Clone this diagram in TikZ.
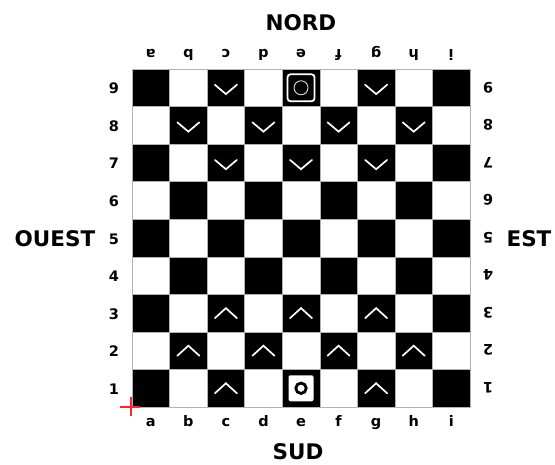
\documentclass[tikz,border=0pt]{standalone}
\usepackage{fontspec}
\setmainfont{DejaVu Sans}
\definecolor{markred}{rgb}{1,0.15,0.15}
\begin{document}
\begin{tikzpicture}[x=1pt,y=-1pt,
  cell/.style={rectangle,minimum size=37.56pt,inner sep=0pt,draw=gray!60,line width=0.5pt},
  lab/.style={font=\bfseries\fontsize{14.5}{16}\selectfont,inner sep=0pt},
  big/.style={font=\bfseries\fontsize{21.5}{26}\selectfont,inner sep=0pt,text depth=0pt,anchor=base},
  chev/.style={draw=white,line width=1.7pt,line cap=round,line join=miter}]
\useasboundingbox (0,0) rectangle (555,464);
% board
\foreach \c in {1,...,9}{
  \foreach \r in {1,...,9}{
    \pgfmathtruncatemacro\parity{mod(\c+\r,2)}
    \ifnum\parity=0 \def\fc{black}\else\def\fc{white}\fi
    \node[cell,fill=\fc] (sq-\c-\r) at ({132+(\c-0.5)*37.56},{69+(9-\r+0.5)*37.56}) {};
  }
}
% file letters
\foreach \l [count=\c] in {a,b,c,d,e,f,g,h,i}{
  \node[lab,anchor=base] (bot-\l) at ({132+(\c-0.5)*37.56},426.5) {\l};
  \node[lab,anchor=base,rotate=180] (top-\l) at ({132+(\c-0.5)*37.56},49.5) {\l};
}
% rank numbers
\foreach \r in {1,...,9}{
  \node[lab] (left-\r) at (114,{69+(9-\r+0.5)*37.56+0.8}) {\r};
  \node[lab,rotate=180] (right-\r) at (488,{69+(9-\r+0.5)*37.56-0.5}) {\r};
}
% compass labels
\node[big] (nord) at (301,30.7) {NORD};
\node[big] (sud) at (298,459.5) {SUD};
\node[big] (ouest) at (55,246) {OUEST};
\node[big] (est) at (529,246) {EST};
% north chevrons (v)
\foreach \c/\r in {3/9,7/9,2/8,4/8,6/8,8/8,3/7,5/7,7/7}{
  \draw[chev] (sq-\c-\r) ++(-11,-3) -- ++(11,9.3) -- ++(11,-9.3);
}
% south chevrons (^)
\foreach \c/\r in {3/3,5/3,7/3,2/2,4/2,6/2,8/2,3/1,7/1}{
  \draw[chev] (sq-\c-\r) ++(-11,5) -- ++(11,-10) -- ++(11,10);
}
% north piece e9
\node[rectangle,rounded corners=3pt,draw=white,line width=1.8pt,fill=black,
  minimum size=27pt,inner sep=0pt] (pn) at (sq-5-9) {};
\draw[gray!25,line width=0.9pt] (pn) circle (7);
% south piece e1
\node[rectangle,rounded corners=2pt,fill=white,minimum width=25pt,minimum height=26pt,
  inner sep=0pt] (ps) at (sq-5-1) {};
\draw[black,line width=2.8pt] (ps) circle (5.2);
% origin mark
\coordinate (origin) at ([shift={(-0.5,-0.5)}]sq-1-1.south west);
\draw[draw=markred,line width=1.6pt]
  (origin) +(-11,0) -- +(9,0)
  (origin) +(0,-10) -- +(0,9);
\end{tikzpicture}
\end{document}
